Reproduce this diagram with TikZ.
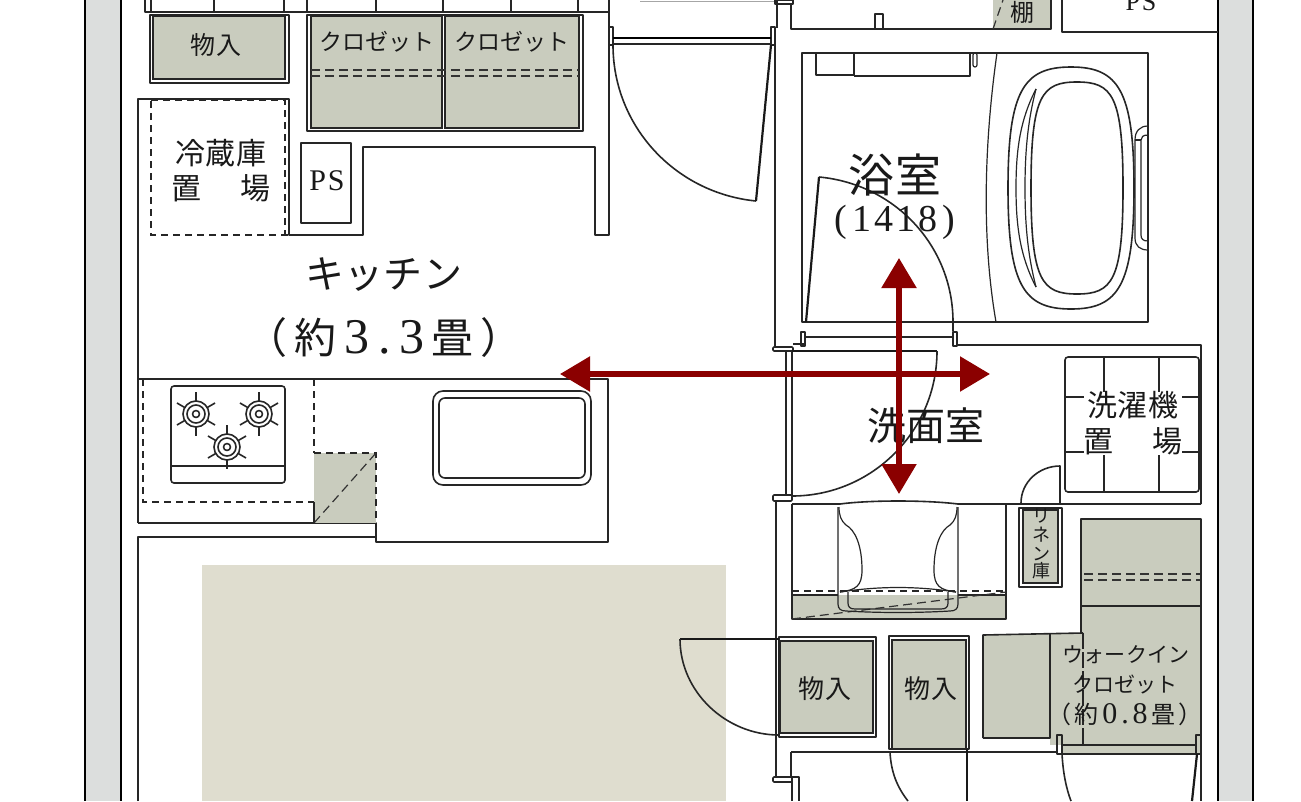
\documentclass[tikz,border=0pt]{standalone}
\usepackage{fontspec}
\setmainfont{Liberation Serif}
\newfontfamily\jpfont{Noto Sans CJK JP}
\usepackage{xcolor}
\usetikzlibrary{arrows.meta,calc}
\definecolor{closetgrey}{HTML}{C9CCBE}
\definecolor{wallgrey}{HTML}{DCDEDD}
\definecolor{floorbeige}{HTML}{DFDDCF}
\definecolor{arrowred}{HTML}{8B0000}
\tikzset{
  plan/.style={line width=1.6pt, draw=black!85, line join=round},
  thinplan/.style={line width=1.2pt, draw=black!85},
  heavy/.style={line width=2.6pt, draw=black},
  leaf/.style={line width=2.2pt, draw=black!90},
  dashline/.style={line width=1.6pt, draw=black!85, dash pattern=on 7pt off 5pt},
  shelf/.style={line width=1.2pt, draw=black!80, dash pattern=on 9pt off 5pt},
  store/.style={fill=closetgrey, line width=1.6pt, draw=black!85},
  route/.style={line width=5.5pt, draw=arrowred, {Triangle[length=30pt,width=34pt]}-{Triangle[length=30pt,width=34pt]}},
  lab/.style={inner sep=0pt, text=black!90},
}
\newcommand{\jp}[3]{{\fontsize{#1}{#1}\jpfont\addfontfeature{LetterSpace=#2}#3}}
\begin{document}
\begin{tikzpicture}[x=1pt,y=-1pt]
  \useasboundingbox (0,0) rectangle (1301,801);
  \fill[white] (0,0) rectangle (1301,801);
  \fill[floorbeige] (202,565) rectangle (726,801);

  % outer walls
  \fill[wallgrey] (85,0) rectangle (121,801);
  \fill[wallgrey] (1218,0) rectangle (1253,801);
  \draw[heavy] (85,0) -- (85,801);
  \draw[heavy] (121,0) -- (121,801);
  \draw[heavy] (1218,0) -- (1218,801);
  \draw[heavy] (1253,0) -- (1253,801);

  % top storage
  \draw[plan] (145,0) -- (145,12) -- (609,12);
  \foreach \x in {151,214,284,307,376,443,511,578}
    \draw[plan] (\x,0) -- (\x,13);
  \draw[plan] (150,15) rectangle (289,83);
  \draw[store] (153,16) rectangle (285,79);
  \draw[plan] (307,15) rectangle (583,131);
  \draw[store] (311,16) rectangle (442,128);
  \draw[store] (445,16) rectangle (579,128);
  \draw[shelf] (311,70) -- (579,70);
  \draw[shelf] (311,76) -- (579,76);

  % kitchen walls
  \draw[plan] (138,523) -- (138,99) -- (289,99) -- (289,235) -- (363,235) -- (363,147)
    -- (595,147) -- (595,235) -- (609,235) -- (609,0);
  \draw[dashline] (151,101) -- (151,235) -- (289,235);
  \draw[dashline] (151,100) -- (285,100) -- (285,235);
  \draw[plan] (301,143) rectangle (351,223);

  % stove and counter
  \draw[plan] (138,379) -- (608,379) -- (608,542) -- (376,542) -- (376,523) -- (138,523);
  \draw[plan] (138,801) -- (138,537) -- (376,537);
  \fill[closetgrey] (314,453) rectangle (376,523);
  \draw[dashline] (143,379) -- (143,502) -- (314,502);
  \draw[line width=1.3pt, draw=black!85, dash pattern=on 7pt off 5pt] (314,379) -- (314,453);
  \draw[dashline] (314,453) -- (376,453) -- (376,523);
  \draw[shelf] (314,523) -- (376,453);
  \draw[plan] (314,502) -- (314,523);
  \draw[plan, rounded corners=3pt] (171,386) rectangle (285,483);
  \draw[plan] (171,466) -- (285,466);
  \foreach \bx/\by in {196/414, 259/414, 227/447} {
    \foreach \a in {30,90,150,210,270,330}
      \draw[plan] ($(\bx,\by)+(\a:13)$) -- ($(\bx,\by)+(\a:22)$);
    \draw[plan] (\bx,\by) circle (13pt);
    \draw[plan] (\bx,\by) circle (9pt);
    \draw[plan] (\bx,\by) circle (3.5pt);
  }
  \draw[plan, rounded corners=10pt] (433,391) rectangle (591,485);
  \draw[plan, rounded corners=6pt] (439,398) rectangle (585,478);

  % door to hall
  \draw[plan] (609,27) rectangle (613,45);
  \draw[plan] (771,27) rectangle (775,45);
  \draw[heavy, line width=1.8pt] (613,38) -- (771,38);
  \draw[plan] (613,44) -- (771,44);
  \draw[plan] (613,45) .. controls (613,126) and (675,193) .. (756,201);
  \draw[leaf] (771,45) -- (756,201);
  \draw[line width=.8pt, draw=black!35] (640,1) -- (775,1);

  % walls on the bath side
  \draw[plan] (775,45) -- (775,347);
  \draw[plan] (777,0) -- (777,28);
  \draw[plan] (775,0) rectangle (793,4);
  \fill[closetgrey] (993,0) rectangle (1051,29);
  \draw[plan] (791,4) -- (791,29) -- (1051,29) -- (1051,0);
  \draw[plan] (875,29) -- (875,14) -- (883,14) -- (883,29);
  \draw[shelf] (993,29) -- (1003,0);
  \draw[plan] (1062,0) -- (1062,32) -- (1218,32);

  % bathroom
  \draw[plan] (802,53) rectangle (1148,322);
  \draw[plan] (816,53) -- (816,75) -- (854,75) -- (854,53);
  \draw[plan] (854,76) -- (970,76) -- (970,53);
  \draw[thinplan, rounded corners=2pt] (973,53) rectangle (977,67);
  \draw[thinplan] (997,53) .. controls (986,130) and (980,230) .. (996,322);
  \draw[plan] (1071,67) .. controls (1118,67) and (1134,90) .. (1134,188)
    .. controls (1134,286) and (1118,309) .. (1071,309)
    .. controls (1024,309) and (1008,286) .. (1008,188)
    .. controls (1008,90) and (1024,67) .. (1071,67) -- cycle;
  \draw[plan] (1077,82) .. controls (1112,82) and (1123,95) .. (1123,188)
    .. controls (1123,281) and (1112,294) .. (1077,294)
    .. controls (1042,294) and (1031,281) .. (1031,188)
    .. controls (1031,95) and (1042,82) .. (1077,82) -- cycle;
  \draw[thinplan] (1036,89) .. controls (1020,120) and (1016,150) .. (1016,188)
    .. controls (1016,226) and (1020,256) .. (1036,287);
  \draw[thinplan] (1036,89) .. controls (1028,120) and (1025,150) .. (1025,188)
    .. controls (1025,226) and (1028,256) .. (1036,287);
  \draw[thinplan] (1148,126) .. controls (1140,126) and (1135,131) .. (1135,140) -- (1135,238)
    .. controls (1135,246) and (1140,250) .. (1148,250);
  \draw[thinplan] (1148,135) .. controls (1143,135) and (1141,137) .. (1141,140) -- (1141,235)
    .. controls (1141,239) and (1143,241) .. (1148,241);
  \draw[thinplan] (1135,140) -- (1141,140);
  \draw[plan] (953,331) -- (953,322) .. controls (953,246) and (895,184) .. (819,177);
  \draw[leaf] (806,322) -- (819,177);
  \draw[plan] (801,332) rectangle (805,346);
  \draw[plan] (953,332) rectangle (957,346);
  \draw[plan] (805,337) -- (953,337);
  \draw[plan] (793,344) -- (805,344);
  \draw[plan] (957,345) -- (1201,345) -- (1201,504);

  % washroom
  \draw[plan, rounded corners=1pt] (773,347) rectangle (793,351);
  \draw[plan] (786,351) -- (786,495);
  \draw[plan] (792,351) -- (792,495);
  \draw[line width=2.2pt, draw=black!90] (792,351) -- (937,351);
  \draw[plan] (937,351) .. controls (937,431) and (872,496) .. (792,496);
  \draw[plan, rounded corners=1pt] (773,495) rectangle (792,501);
  \draw[plan] (776,501) -- (776,778);
  \draw[plan, rounded corners=3pt] (1065,357) rectangle (1199,492);
  \draw[plan] (1104,357) -- (1104,392) (1159,357) -- (1159,392);
  \draw[plan] (1104,455) -- (1104,492) (1159,455) -- (1159,492);
  \draw[plan] (1065,397) -- (1084,397) (1182,397) -- (1199,397);
  \draw[plan] (1065,452) -- (1084,452) (1182,452) -- (1199,452);
  \draw[plan] (1060,503) -- (1060,466) .. controls (1039,466) and (1021,482) .. (1021,503);
  \draw[plan] (792,504) -- (840,504) .. controls (870,500) and (926,500) .. (958,504) -- (1201,504);

  % linen and toilet
  \draw[plan] (1019,508) rectangle (1062,587);
  \draw[store] (1023,510) rectangle (1058,583);
  \fill[closetgrey] (792,595) rectangle (1006,619);
  \draw[plan] (792,504) -- (792,619) -- (1006,619) -- (1006,504);
  \draw[plan] (792,595) -- (838,595) (958,595) -- (1006,595);
  \draw[shelf] (792,619) -- (1006,592);
  \draw[dashline] (792,591) -- (1006,591);
  \draw[thinplan] (838,507) -- (838,604) .. controls (838,609) and (841,611) .. (846,611)
    .. controls (880,613) and (916,613) .. (950,611) .. controls (955,611) and (958,609) .. (958,604) -- (958,507);
  \draw[thinplan] (848,592) -- (848,603) .. controls (848,607) and (850,609) .. (855,609)
    -- (941,609) .. controls (946,609) and (948,607) .. (948,603) -- (948,592);
  \draw[thinplan] (840,592) .. controls (880,586) and (916,586) .. (956,592);
  \draw[thinplan] (840,592) .. controls (856,590) and (862,586) .. (862,570)
    .. controls (862,545) and (855,530) .. (846,525) .. controls (841,521) and (839,515) .. (839,507);
  \draw[thinplan] (956,592) .. controls (940,590) and (934,586) .. (934,570)
    .. controls (934,545) and (941,530) .. (950,525) .. controls (955,521) and (957,515) .. (957,507);

  % walk-in closet and lower storage
  \fill[closetgrey] (1081,519) rectangle (1201,745);
  \fill[closetgrey] (983,634) rectangle (1083,738);
  \fill[closetgrey] (1050,738) rectangle (1083,745);
  \fill[closetgrey] (1062,745) rectangle (1201,754);
  \draw[plan] (1081,634) -- (1081,519) -- (1201,519) -- (1201,801);
  \draw[shelf] (1084,574) -- (1200,574);
  \draw[shelf] (1084,580) -- (1200,580);
  \draw[plan] (1081,606) -- (1201,606);
  \draw[plan] (983,738) -- (983,635) -- (1083,633);
  \draw[plan] (983,738) -- (1050,738) -- (1050,634);
  \draw[line width=1.2pt, draw=black!85, dash pattern=on 16pt off 3pt] (1083,633) -- (1083,745);
  \draw[plan] (1057,735) rectangle (1062,754);
  \draw[plan] (1196,735) rectangle (1201,754);
  \draw[plan] (1062,745) -- (1196,745);
  \draw[plan] (1062,754) -- (1196,754);

  \draw[plan] (779,637) rectangle (876,737);
  \draw[store] (780,641) rectangle (873,733);
  \draw[plan] (889,636) rectangle (969,749);
  \draw[store] (892,640) rectangle (966,749);
  \draw[plan] (791,752) -- (1057,752);
  \draw[line width=2.2pt, draw=black!90] (680,639) -- (779,639);
  \draw[plan] (680,639) .. controls (680,692) and (726,735) .. (779,735);
  \draw[plan] (791,778) -- (791,752);
  \draw[plan, rounded corners=1pt] (773,777) rectangle (792,782);
  \draw[plan] (792,801) -- (792,777) -- (799,777) -- (799,801);
  \draw[plan] (890,752) .. controls (891,772) and (897,787) .. (908,801);
  \draw[leaf] (967,749) -- (967,801);
  \draw[plan] (1062,754) .. controls (1063,772) and (1066,788) .. (1071,801);
  \draw[leaf] (1197,754) -- (1192,801);

  % room labels
  \node[lab] at (216,45) (topstore) {\jp{25}{.2}{物入}};
  \node[lab] at (377,42) (closetone) {\jp{23}{-.09}{クロゼット}};
  \node[lab] at (512,42) (closettwo) {\jp{23}{-.09}{クロゼット}};
  \node[lab] at (221,153) (fridgeone) {\jp{30}{.15}{冷蔵庫}};
  \node[lab] at (221,188) (fridgetwo) {\jp{30}{0}{置\hspace{39pt}場}};
  \node[lab] at (327,181) (pslabel) {\fontsize{30}{30}\selectfont P\hspace{2pt}S};
  \node[lab] at (384,275) (kitchen) {\jp{39}{.05}{キッチン}};
  \node[lab] at (384,338) (kitchenarea) {\jp{42}{0}{（\hspace{7pt}約}\hspace{8pt}\fontsize{50}{50}\selectfont 3\hspace{9pt}.\hspace{9pt}3\hspace{7pt}\jp{42}{0}{畳\hspace{7pt}）}};
  \node[lab] at (895,175) (bath) {\jp{46}{.24}{浴室}};
  \node[lab] at (895,222) (bathsize) {\fontsize{38}{38}\selectfont (\hspace{5pt}1\hspace{3pt}4\hspace{3pt}1\hspace{3pt}8\hspace{5pt})};
  \node[lab] at (926,426) (washroom) {\jp{39}{.18}{洗面室}};
  \node[lab] at (1133,405) (washerone) {\jp{30}{.15}{洗濯機}};
  \node[lab] at (1133,441) (washertwo) {\jp{30}{0}{置\hspace{39pt}場}};
  \node[lab, align=center, text width=24pt] at (1041,544) (linen) {\fontsize{18}{19}\jpfont リ\\ネ\\ン\\庫};
  \node[lab] at (825,689) (storeone) {\jp{26}{.12}{物入}};
  \node[lab] at (931,689) (storetwo) {\jp{26}{.12}{物入}};
  \node[lab] at (1126,655) (wicone) {\jp{21}{.05}{ウォークイン}};
  \node[lab] at (1125,684) (wictwo) {\jp{21}{.02}{クロゼット}};
  \node[lab] at (1125,714) (wicthree) {\jp{24}{0}{（\hspace{3pt}約}\hspace{4pt}\fontsize{30}{30}\selectfont 0\hspace{4pt}.\hspace{4pt}8\hspace{4pt}\jp{24}{0}{畳\hspace{3pt}）}};
  \node[lab] at (1022,12) (shelflabel) {\jp{24}{0}{棚}};
  \node[lab] at (1141,2) (pstop) {\fontsize{26}{26}\selectfont P\hspace{2pt}S};

  % circulation
  \coordinate (west) at (560,374);
  \coordinate (east) at (990,374);
  \coordinate (north) at (899,258);
  \coordinate (south) at (899,494);
  \draw[route] (west) -- (east);
  \draw[route] (north) -- (south);
\end{tikzpicture}
\end{document}
